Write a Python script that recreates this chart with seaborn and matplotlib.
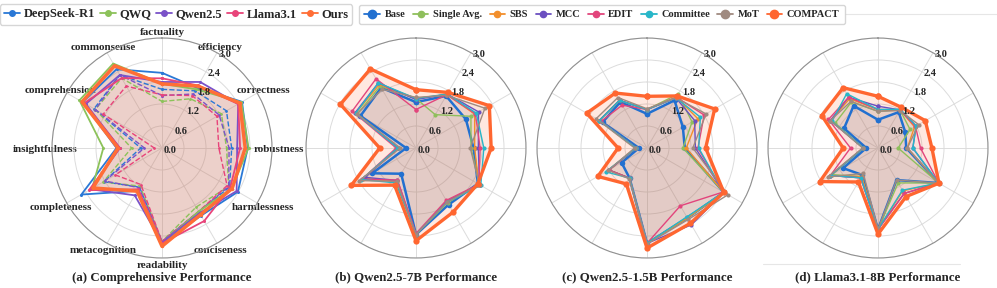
import numpy as np
import matplotlib
matplotlib.use("Agg")
import matplotlib.pyplot as plt
from matplotlib.lines import Line2D
from matplotlib.transforms import offset_copy
import seaborn as sns

# axes of every radar, clockwise from the top
categories = ['factuality', 'efficiency', 'correctness', 'robustness', 'harmlessness',
              'conciseness', 'readability', 'metacognition', 'completeness',
              'insightfulness', 'comprehension', 'commonsense']
r_ticks = [0.0, 0.6, 1.2, 1.8, 2.4, 3.0]

# (a) comprehensive performance
deepseek = [2.05, 1.90, 2.52, 2.34, 2.39, 2.13, 2.60, 1.35, 2.54, 1.24, 2.50, 2.48]
qwq = [1.75, 1.85, 2.50, 2.36, 2.20, 2.00, 2.60, 1.33, 2.20, 1.60, 2.60, 2.66]
qwen = [1.80, 2.08, 2.40, 2.05, 2.35, 2.05, 2.58, 1.49, 2.25, 1.15, 2.40, 2.30]
llama = [1.90, 1.97, 2.40, 2.13, 2.15, 2.30, 2.60, 1.30, 2.30, 1.15, 2.45, 2.20]
ours = [1.75, 1.95, 2.45, 2.27, 2.21, 2.10, 2.68, 1.36, 2.18, 1.20, 2.52, 2.59]
# dashed counterparts (not in the legend)
deepseek_dash = [1.60, 1.80, 2.03, 1.90, 2.13, 2.00, 2.55, 1.23, 1.84, 0.58, 2.14, 2.30]
qwq_dash = [1.27, 1.55, 1.87, 1.76, 2.10, 1.86, 2.55, 1.20, 1.85, 0.83, 2.10, 2.20]
qwen_dash = [1.43, 1.70, 1.80, 1.83, 2.10, 2.00, 2.55, 1.25, 1.80, 0.48, 2.10, 2.30]
llama_dash = [1.45, 1.65, 1.73, 1.55, 2.05, 2.00, 2.55, 1.15, 1.47, 0.21, 1.85, 1.95]

# (b) Qwen2.5-7B
base_b = [1.25, 1.64, 1.57, 1.57, 1.95, 1.78, 2.36, 0.81, 1.38, 0.27, 1.75, 1.90]
single_b = [1.35, 1.05, 1.73, 1.50, 2.00, 1.72, 2.36, 1.05, 1.65, 0.50, 1.85, 1.95]
sbs_b = [1.35, 1.68, 1.85, 1.60, 1.98, 1.70, 2.36, 1.05, 1.68, 0.50, 1.90, 2.00]
mcc_b = [1.32, 1.70, 1.97, 1.70, 2.00, 1.68, 2.36, 1.02, 1.60, 0.48, 1.92, 2.05]
edit_b = [1.05, 1.68, 1.87, 1.75, 1.98, 1.65, 2.33, 1.01, 1.70, 0.54, 2.01, 2.18]
comm_b = [1.35, 1.70, 1.90, 1.85, 2.04, 1.70, 2.36, 1.10, 1.72, 0.50, 1.90, 2.05]
mot_b = [1.38, 1.66, 2.17, 1.48, 2.00, 1.70, 2.36, 1.05, 1.78, 0.43, 1.86, 1.85]
compact_b = [1.59, 1.75, 2.31, 2.05, 1.95, 2.02, 2.53, 1.17, 2.04, 0.99, 2.38, 2.49]

# (c) Qwen2.5-1.5B
base_c = [0.93, 1.50, 1.13, 1.03, 2.42, 2.20, 2.60, 0.95, 0.80, 0.22, 1.40, 1.45]
single_c = [1.05, 1.70, 1.42, 0.98, 2.42, 2.20, 2.60, 0.95, 1.20, 0.30, 1.50, 1.50]
sbs_c = [1.05, 1.60, 1.60, 1.07, 2.42, 2.20, 2.60, 0.95, 1.20, 0.30, 1.50, 1.50]
mcc_c = [1.05, 1.58, 1.50, 1.32, 2.42, 2.42, 2.60, 0.95, 1.20, 0.30, 1.50, 1.50]
edit_c = [1.05, 1.60, 1.80, 1.39, 2.40, 1.82, 2.60, 0.95, 1.20, 0.30, 1.45, 1.35]
comm_c = [1.05, 1.58, 1.68, 1.41, 2.42, 2.17, 2.60, 0.95, 1.30, 0.30, 1.50, 1.50]
mot_c = [1.07, 1.58, 1.86, 1.25, 2.55, 2.25, 2.62, 0.97, 1.22, 0.34, 1.60, 1.59]
compact_c = [1.41, 1.64, 2.13, 1.60, 2.42, 2.37, 2.73, 1.13, 1.55, 0.79, 1.90, 1.73]

# (d) Llama3.1-8B
base_d = [0.77, 1.13, 0.86, 0.77, 1.91, 1.01, 2.22, 0.85, 1.10, 0.32, 1.07, 1.33]
single_d = [1.00, 1.20, 1.01, 0.55, 1.91, 1.10, 2.22, 0.90, 1.45, 0.40, 1.35, 1.45]
sbs_d = [1.05, 1.20, 1.15, 0.80, 1.91, 1.35, 2.22, 0.90, 1.50, 0.40, 1.50, 1.55]
mcc_d = [1.14, 1.20, 1.20, 0.95, 1.91, 1.43, 2.22, 0.94, 1.50, 0.40, 1.50, 1.60]
edit_d = [1.05, 1.20, 1.18, 1.16, 1.91, 1.43, 2.22, 0.94, 1.50, 0.75, 1.56, 1.60]
comm_d = [1.05, 1.22, 1.20, 0.95, 1.91, 1.33, 2.22, 0.94, 1.50, 0.40, 1.45, 1.71]
mot_d = [1.00, 1.18, 1.28, 0.80, 1.91, 1.01, 2.22, 0.80, 1.58, 0.42, 1.50, 1.47]
compact_d = [1.41, 1.28, 1.49, 1.47, 1.92, 1.53, 2.35, 1.07, 1.83, 0.95, 1.77, 1.90]

models_a = ['DeepSeek-R1', 'QWQ', 'Qwen2.5', 'Llama3.1', 'Ours']
colors_a = ['#2a78d6', '#8cc25a', '#7a52c8', '#e8447a', '#ff6e36']
methods = ['Base', 'Single Avg.', 'SBS', 'MCC', 'EDIT', 'Committee', 'MoT', 'COMPACT']
colors_m = ['#2270d0', '#8fbf5c', '#f28f2c', '#6b4fc0', '#e2457c', '#27b6c8', '#a08a80', '#ff6630']
captions = ['(a) Comprehensive Performance', '(b) Qwen2.5-7B Performance',
            '(c) Qwen2.5-1.5B Performance', '(d) Llama3.1-8B Performance']

sns.set_style('white')
plt.rcParams['font.family'] = ['Liberation Serif', 'DejaVu Serif']
plt.rcParams['font.weight'] = 'bold'

angles = np.linspace(0, 2 * np.pi, len(categories), endpoint=False)
theta = np.append(angles, 2 * np.pi)


def closed(vals):
    return np.append(vals, vals[0])


def style_radar(ax, show_labels):
    ax.set_theta_zero_location('N')
    ax.set_theta_direction(-1)
    ax.set_ylim(0, 3.0)
    ax.set_yticks(r_ticks)
    ax.set_yticklabels([])
    # radial labels along the 30 degree spoke, left aligned
    tr = offset_copy(ax.transData, fig=ax.figure, x=1.5, y=-1.5, units='points')
    for t in r_ticks:
        ax.text(np.deg2rad(30), t, f'{t:.1f}', transform=tr, ha='left', va='center',
                fontsize=7.5, fontweight='bold', zorder=10)
    ax.set_xticks(angles)
    if show_labels:
        ax.set_xticklabels(categories, fontsize=8, fontweight='bold')
        for lab in ax.get_xticklabels():
            lab.set_va('center_baseline')
    else:
        ax.set_xticklabels([])
    ax.tick_params(axis='x', pad=-5.5)
    ax.grid(color='#dcdcdc', lw=0.7)
    ax.spines['polar'].set_color('#909090')
    ax.spines['polar'].set_linewidth(0.8)
    ax.set_xlabel('')
    ax.set_ylabel('')


def radar_line(ax, vals, color, lw, ms, ls='-'):
    sns.lineplot(x=theta, y=closed(vals), ax=ax, sort=False, estimator=None,
                 color=color, lw=lw, linestyle=ls, marker='o', ms=ms,
                 mec=color, mew=0)


fig = plt.figure(figsize=(9.97, 2.88), dpi=100)
W, H = 997, 288
centers = [162, 416, 647, 878]
cy, rad = 148, 110
axes = [fig.add_axes([(cx - rad) / W, (H - cy - rad) / H, 2 * rad / W, 2 * rad / H],
                     projection='polar') for cx in centers]

# panel (a)
ax = axes[0]
for vals, c in zip([deepseek_dash, qwq_dash, qwen_dash, llama_dash], colors_a[:4]):
    radar_line(ax, vals, c, 1.0, 2, '--')
for vals, c in zip([deepseek, qwq, qwen, llama], colors_a[:4]):
    radar_line(ax, vals, c, 1.3, 2.2)
ax.fill(theta, closed(ours), color='#c8735f', alpha=0.33, lw=0)
radar_line(ax, ours, colors_a[4], 2.5, 2.5)
style_radar(ax, True)

# panels (b)-(d)
panel_data = [
    [base_b, single_b, sbs_b, mcc_b, edit_b, comm_b, mot_b, compact_b],
    [base_c, single_c, sbs_c, mcc_c, edit_c, comm_c, mot_c, compact_c],
    [base_d, single_d, sbs_d, mcc_d, edit_d, comm_d, mot_d, compact_d],
]
for ax, series in zip(axes[1:], panel_data):
    for i, (vals, c) in enumerate(zip(series, colors_m)):
        if methods[i] == 'COMPACT':
            ax.fill(theta, closed(vals), color=c, alpha=0.15, lw=0)
            radar_line(ax, vals, c, 2.4, 4.5)
        elif methods[i] == 'Base':
            ax.fill(theta, closed(vals), color=c, alpha=0.04, lw=0)
            radar_line(ax, vals, c, 1.8, 4)
        else:
            ax.fill(theta, closed(vals), color=c, alpha=0.04, lw=0)
            radar_line(ax, vals, c, 1.0, 3)
    style_radar(ax, False)

for ax in axes:
    if ax.get_legend() is not None:
        ax.get_legend().remove()

# legends
h_a = [Line2D([], [], color=c, lw=1.3, marker='o', ms=4) for c in colors_a]
fig.legend(h_a, models_a, loc='center', bbox_to_anchor=(176 / W, 1 - 14.5 / H), ncol=5,
           fontsize=9, handlelength=1.3, handletextpad=0.25, columnspacing=0.4,
           frameon=True, edgecolor='#cccccc', borderpad=0.35, borderaxespad=0)
h_m = [Line2D([], [], color=c, lw=1.3, marker='o',
              ms=6 if m in ('Base', 'COMPACT', 'MoT') else 4.5) for c, m in zip(colors_m, methods)]
fig.legend(h_m, methods, loc='center', bbox_to_anchor=(602 / W, 1 - 14.5 / H), ncol=8,
           fontsize=7.5, handlelength=1.5, handletextpad=0.45, columnspacing=0.7,
           frameon=True, edgecolor='#cccccc', borderpad=0.5, borderaxespad=0)

# faint layout rules seen beside the right legend and under panel (d)
fig.add_artist(Line2D([845 / W, 1.0], [1 - 14 / H, 1 - 14 / H], color='#e6e6e6', lw=0.8))
fig.add_artist(Line2D([763 / W, 960 / W], [1 - 264 / H, 1 - 264 / H], color='#e6e6e6', lw=0.8))

for cx, cap in zip(centers, captions):
    fig.text(cx / W, 1 - 277.5 / H, cap, ha='center', va='center', fontsize=9.3, fontweight='bold')

fig.savefig('out.png', dpi=100)
